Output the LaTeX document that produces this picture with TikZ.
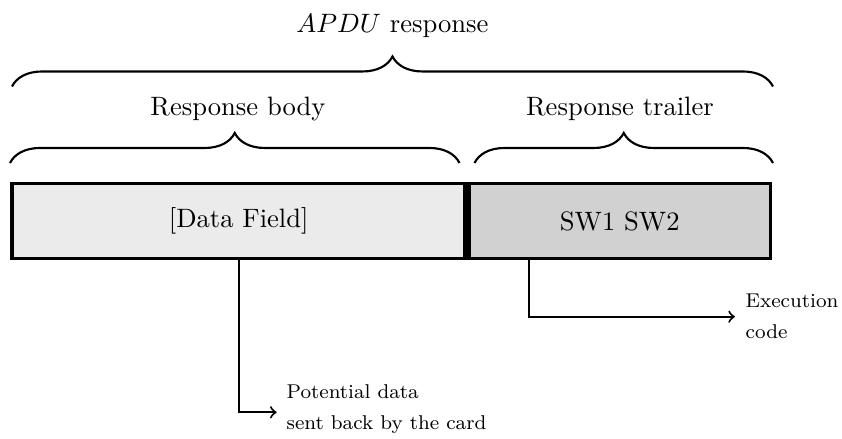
\documentclass[tikz,border=0pt]{standalone}
\usetikzlibrary{decorations.pathreplacing}
\begin{document}
\begin{tikzpicture}[x=0.376pt, y=-0.376pt,
  fieldbox/.style={draw, line width=1.4pt, minimum height=28.2pt, inner sep=0pt, anchor=center},
  bodyfill/.style={fill=black!8},
  trailerfill/.style={fill=black!18},
  bracepath/.style={decorate, line width=0.8pt, decoration={brace, amplitude=11.3pt}},
  link/.style={->, line width=0.75pt},
  note/.style={anchor=west, align=left, font=\fontsize{7.5}{11.7}\selectfont},
  heading/.style={anchor=base}]
  \useasboundingbox (0,0) rectangle (842,439);

  % the two fields of the response
  \node[fieldbox, bodyfill, minimum width=170.4pt] (body) at (238.75,221) {{[}Data Field{]}};
  \node[fieldbox, trailerfill, minimum width=113.4pt] (trailer) at (619.75,221) {SW1 SW2};

  % braces grouping the fields
  \coordinate (allL) at (12,86.5);
  \coordinate (allR) at (773,86.5);
  \coordinate (bodyL) at (10,163);
  \coordinate (bodyR) at (459.5,163);
  \coordinate (trailL) at (474.5,163);
  \coordinate (trailR) at (773,163);
  \draw[bracepath] (allL) -- (allR);
  \draw[bracepath] (bodyL) -- (bodyR);
  \draw[bracepath] (trailL) -- (trailR);

  % headings
  \node[heading] (title) at (392.5,32.5) {$APDU$ response};
  \node[heading] (bodyhead) at (238,115) {Response body};
  \node[heading] (trailhead) at (620,115) {Response trailer};

  % annotations
  \node[note] (pot) at (277.3,409.5) {Potential data\\sent back by the card};
  \node[note] (exe) at (736.3,316.3) {Execution\\code};
  \coordinate (potTip) at (276.7,412.3);
  \coordinate (exeTip) at (735,316.7);
  \coordinate (swOut) at (529,258.5);
  \draw[link] (body.south) |- (potTip);
  \draw[link] (swOut) |- (exeTip);
\end{tikzpicture}
\end{document}
